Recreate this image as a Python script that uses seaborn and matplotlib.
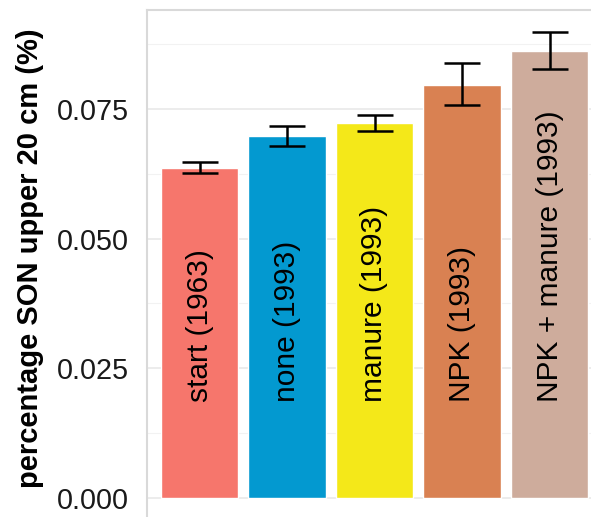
import numpy as np
import matplotlib
matplotlib.use("Agg")
import matplotlib.pyplot as plt
import seaborn as sns

treatments = ["start (1963)", "none (1993)", "manure (1993)", "NPK (1993)", "NPK + manure (1993)"]
son_mean = [0.0636, 0.0698, 0.0722, 0.0797, 0.0862]
son_lower = [0.0626, 0.0678, 0.0708, 0.0758, 0.0827]
son_upper = [0.0648, 0.0718, 0.0738, 0.0838, 0.0898]
bar_colors = ["#F6766C", "#0399D0", "#F4E819", "#D98152", "#CEAC9C"]
y_ticks = [0.000, 0.025, 0.050, 0.075]
y_minor = [0.0125, 0.0375, 0.0625, 0.0875]

sns.set_theme(style="white")
plt.rcParams["font.family"] = ["Liberation Sans", "DejaVu Sans"]

fig = plt.figure(figsize=(5.91, 5.17), dpi=100)
ax = fig.add_axes([147 / 591, (517 - 521.3) / 517, 455 / 591, 511.3 / 517])

sns.barplot(x=treatments, y=son_mean, hue=treatments, palette=bar_colors,
            legend=False, width=0.89, saturation=1, ax=ax, errorbar=None)

xpos = np.arange(len(treatments))
mean = np.array(son_mean)
yerr = [mean - np.array(son_lower), np.array(son_upper) - mean]
ax.errorbar(xpos, mean, yerr=yerr, fmt="none", ecolor="black",
            elinewidth=1.8, capsize=13, capthick=1.8, zorder=4)

for x, lab in zip(xpos, treatments):
    ax.text(x, 0.0185, lab, rotation=90, ha="center", va="bottom",
            fontsize=21.5, color="black", zorder=5)

ax.set_xlim(-0.6, 4.6)
ax.set_ylim(-0.0045, 0.09408)
ax.set_yticks(y_ticks)
ax.set_yticklabels([f"{v:.3f}" for v in y_ticks])
ax.set_yticks(y_minor, minor=True)
ax.set_xticks([])
ax.grid(axis="y", which="major", color="#EBEBEB", linewidth=1.3, zorder=0)
ax.grid(axis="y", which="minor", color="#F2F2F2", linewidth=0.8, zorder=0)
ax.set_axisbelow(True)
ax.tick_params(axis="y", which="both", length=0, pad=13, labelsize=20.7, labelcolor="#1A1A1A")

for side in ["left", "top"]:
    ax.spines[side].set_visible(True)
    ax.spines[side].set_color("#D9D9D9")
    ax.spines[side].set_linewidth(1.5)
for side in ["right", "bottom"]:
    ax.spines[side].set_visible(False)

ax.set_ylabel("percentage SON upper 20 cm (%)", fontsize=21, fontweight="bold",
              color="black", va="center")
ax.yaxis.set_label_coords(-0.257, 0.515)
ax.set_xlabel("")

fig.savefig("out.png", dpi=100)
